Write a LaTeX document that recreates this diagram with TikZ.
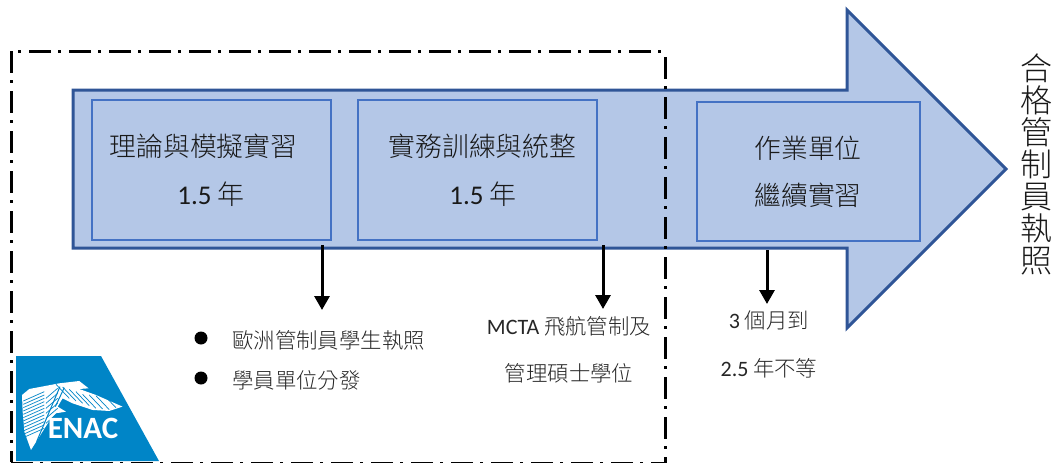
\documentclass[tikz,border=0pt]{standalone}
\usepackage{fontspec}
\setmainfont{Carlito}
\newfontfamily\cjk{Noto Sans CJK TC Light}
\usetikzlibrary{arrows.meta}
\definecolor{arrowfill}{HTML}{B4C7E7}
\definecolor{arrowline}{HTML}{2F5597}
\definecolor{boxline}{HTML}{4472C4}
\definecolor{logoblue}{HTML}{0085C7}
\tikzset{
  stagebox/.style={draw=boxline,line width=2pt,fill=arrowfill},
  stagetext/.style={font=\fontsize{26.8}{26.8}\selectfont\cjk,text=black!90,inner sep=0pt},
  notetext/.style={font=\fontsize{21.4}{21.4}\selectfont\cjk,text=black!85,inner sep=0pt},
  numtext/.style={font=\fontsize{27}{27}\selectfont,text=black!90},
  outcome/.style={-{Triangle[length=14pt,width=15pt]},line width=3pt,black},
  scopeline/.style={line width=3pt,black,dash pattern=on 22pt off 7pt on 3pt off 8pt},
  feather/.style={logoblue,line width=.7pt}
}
\begin{document}
\begin{tikzpicture}[x=1pt,y=-1pt]
\useasboundingbox (0,0) rectangle (1063,463);

% arrow
\draw[arrowline,line width=3pt,fill=arrowfill,line join=miter] (73,90) -- (847,90) -- (847,10) -- (1006,169) -- (847,328) -- (847,248) -- (73,248) -- cycle;

% boxes
\draw[stagebox] (92,100) rectangle (331,240);
\draw[stagebox] (358,100) rectangle (597,240);
\draw[stagebox] (697,102) rectangle (920,241);

\coordinate (theory) at (322,245);
\coordinate (theoryend) at (322,310);
\coordinate (practice) at (603,245);
\coordinate (practiceend) at (603,309);
\coordinate (unit) at (767,250);
\coordinate (unitend) at (767,304);

% scope of the course
\draw[scopeline] (11,51) -- (11,462);
\draw[scopeline,dash phase=22pt] (11,51) -- (665,51);
\draw[scopeline,dash phase=34pt] (665,51) -- (665,463);
\draw[scopeline] (11,463) -- (665,463);

\draw[outcome] (theory) -- (theoryend);
\draw[outcome] (practice) -- (practiceend);
\draw[outcome] (unit) -- (unitend);

% box texts
\node[stagetext] (theoryname) at (203.5,146) {理論與模擬實習};
\node[numtext] (theoryyear) at (211,194) {1.5 {\cjk 年}};
\node[stagetext] (practicename) at (482.5,146) {實務訓練與統整};
\node[numtext] (practiceyear) at (483,194) {1.5 {\cjk 年}};
\node[stagetext] (unitname) at (808,148) {作業單位};
\node[stagetext] (unitmore) at (808,195) {繼續實習};

% notes
\fill[black] (201,338) circle (6.5);
\fill[black] (201,378) circle (6.5);
\node[notetext,anchor=west] (licence) at (232,340) {歐洲管制員學生執照};
\node[notetext,anchor=west] (posting) at (232,380) {學員單位分發};
\node[notetext] (mcta) at (569,326) {{\fontsize{22}{22}\selectfont\rmfamily MCTA} 飛航管制及};
\node[notetext] (master) at (569,373) {管理碩士學位};
\node[notetext] (months) at (769,320) {{\fontsize{22}{22}\selectfont\rmfamily 3} 個月到};
\node[notetext] (years) at (769,368) {{\fontsize{22}{22}\selectfont\rmfamily 2.5} 年不等};

% result
\node[font=\fontsize{32}{32}\selectfont\cjk,text=black!90,align=center,inner sep=0pt] (result) at (1036.5,164) {合\\格\\管\\制\\員\\執\\照};

% logo
\fill[logoblue] (16,356) -- (101,356) -- (159,461) -- (16,461) -- cycle;
\begin{scope}[shift={(16,375)},x=.333pt,y=-.333pt]
\fill[white] (18,60) -- (40,42) -- (130,25) -- (190,18) -- (218,40) -- (190,42) -- (240,60) -- (320,95) -- (280,108) -- (230,105) -- (170,85) -- (140,70) -- (125,95) -- (150,110) -- (120,115) -- (105,130) -- (45,225) -- (25,170) -- (20,110) -- cycle;
\draw[logoblue,line width=1pt] (132,35) -- (62,200);
\draw[logoblue,line width=1pt] (145,38) -- (118,95);
% feathers
\foreach \fx/\fy in {240/100,260/102,280/104,300/98,220/92,200/85,180/78,160/70}
  \draw[feather] (\fx-40,\fy-42) -- (\fx,\fy);
\foreach \fy in {60,70,80,90,100,110,120,130,140,150,160,170}
  \draw[feather] (85,\fy-10) -- (22,\fy+18);
\foreach \fy in {60,75,90,105,120,135,150,165}
  \draw[feather] (90,\fy+10) -- (125,\fy-20);
\end{scope}
\node[font=\fontsize{31}{31}\selectfont\bfseries,text=white,inner sep=0pt] (enac) at (83,428) {ENAC};
\end{tikzpicture}
\end{document}
